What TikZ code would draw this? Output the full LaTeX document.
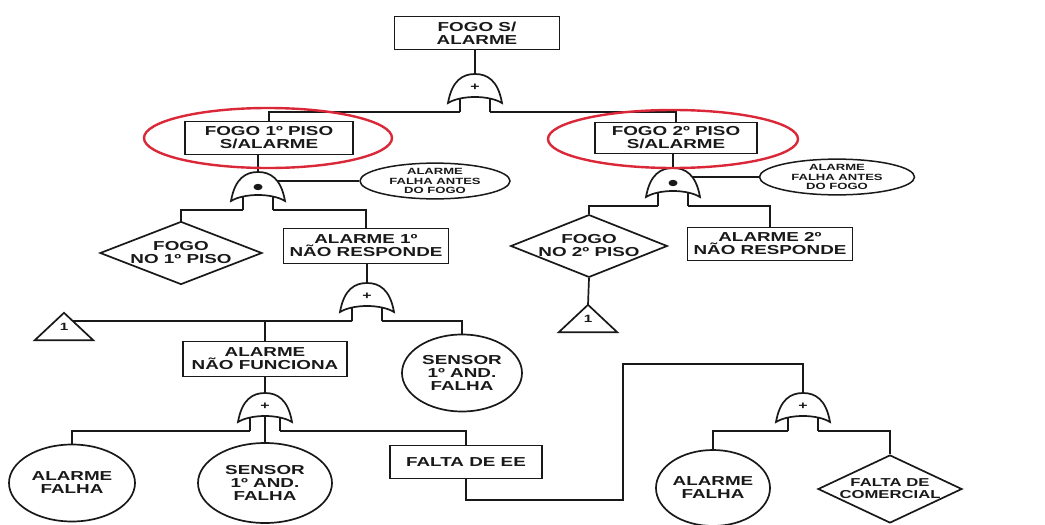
\documentclass[tikz,border=0pt]{standalone}
\usepackage{fontspec}
\newfontfamily\ftfont{Liberation Sans}[FakeStretch=1.45]
\usetikzlibrary{shapes.geometric,calc}

\definecolor{ink}{RGB}{25,25,25}
\definecolor{markred}{RGB}{218,40,56}

\newcommand\lbltext{\ftfont\bfseries\fontsize{13}{13}\selectfont}
\newcommand\smalltext{\ftfont\bfseries\fontsize{9}{9.5}\selectfont}
\newcommand\midtext{\ftfont\bfseries\fontsize{11.5}{12}\selectfont}

% body of a fault-tree gate, top point at the origin, inputs below
\newcommand\ftgatebody{%
  \draw[gateline] (-27,29) .. controls (-23,6) and (-12,0) .. (0,0)
     .. controls (12,0) and (23,6) .. (27,29)
     .. controls (14,21) and (-14,21) .. cycle;
  \draw[wire] (-15,25) -- (-15,38) (15,25) -- (15,38);
  \coordinate (-top) at (0,0);
  \coordinate (-l) at (-15,38);
  \coordinate (-r) at (15,38);
  \coordinate (-mid) at (0,23);
  \coordinate (-side) at (19,9);
}

\begin{document}
\begin{tikzpicture}[x=1pt,y=-1pt,
  wire/.style={draw=ink, line width=1.7pt},
  gateline/.style={draw=ink, line width=1.7pt, fill=white},
  box/.style={rectangle, draw=ink, line width=1.7pt, fill=white, inner sep=0pt,
    align=center, font=\lbltext, text=ink},
  basic/.style={ellipse, draw=ink, line width=1.7pt, fill=white, inner sep=0pt,
    align=center, font=\lbltext, text=ink},
  cond/.style={ellipse, draw=ink, line width=1.5pt, fill=white, inner sep=0pt,
    align=center, font=\smalltext, text=ink},
  event/.style={diamond, draw=ink, line width=1.7pt, fill=white, inner sep=0pt,
    align=center, font=\lbltext, text=ink},
  tri/.style={rectangle, minimum width=58pt, minimum height=27pt, inner sep=0pt,
    font=\ftfont\bfseries\fontsize{10.5}{10.5}\selectfont, text=ink},
  redring/.style={ellipse, draw=markred, line width=2.4pt, inner sep=0pt},
  gatesym/.style={font=\ftfont\bfseries\fontsize{11}{11}\selectfont, text=ink, inner sep=0pt},
  pics/orgate/.style={code={\ftgatebody \node[gatesym] at (0,13) {+};}},
  pics/andgate/.style={code={\ftgatebody \fill[ink] (0,15) ellipse [x radius=4.5pt, y radius=3.2pt];}},
]
\useasboundingbox[fill=white] (0,0) rectangle (1045,525);

% top event
\node[box, minimum width=165pt, minimum height=33pt] (A) at (477,33) {FOGO S/\\ALARME};
\pic (g0) at (475,74) {orgate};

% first floor branch
\node[box, minimum width=168pt, minimum height=33pt] (B) at (269,138) {FOGO 1º PISO\\S/ALARME};
\pic (g1) at (258,172) {andgate};
\node[cond, minimum width=150pt, minimum height=35pt] (E1) at (435,181) {ALARME\\FALHA ANTES\\DO FOGO};
\node[event, minimum width=162pt, minimum height=63pt, aspect=2.57] (D1) at (181,253) {FOGO\\NO 1º PISO};
\node[box, minimum width=165pt, minimum height=35pt] (D) at (366,246) {ALARME 1º\\NÃO RESPONDE};
\pic (g2) at (367,283) {orgate};
\node[tri] (T1) at (64,326.5) {1};
\draw[wire] (T1.south west) -- (T1.north) -- (T1.south east) -- cycle;
\node[box, minimum width=164pt, minimum height=35pt] (E) at (265,359) {ALARME\\NÃO FUNCIONA};
\node[basic, minimum width=120pt, minimum height=77pt] (S1) at (462,373) {SENSOR\\1º AND.\\FALHA};
\pic (g3) at (265,393) {orgate};
\node[basic, minimum width=126pt, minimum height=77pt] (F1) at (72,483) {ALARME\\FALHA};
\node[basic, minimum width=134pt, minimum height=80pt] (S2) at (265,483) {SENSOR\\1º AND.\\FALHA};
\node[box, minimum width=152pt, minimum height=33pt] (F) at (466,462) {FALTA DE EE};

% power supply failure
\coordinate (eA) at (623,500);
\coordinate (eB) at (623,364);
\pic (g4) at (803,393) {orgate};
\node[basic, minimum width=114pt, minimum height=76pt] (F2) at (713,488) {ALARME\\FALHA};
\node[event, minimum width=144pt, minimum height=68pt, aspect=2.12, font=\midtext] (D3) at (890,489) {FALTA DE\\COMERCIAL};

% second floor branch
\node[box, minimum width=162pt, minimum height=31pt] (C) at (676,138) {FOGO 2º PISO\\S/ALARME};
\pic (g5) at (673,168) {andgate};
\node[cond, minimum width=155pt, minimum height=35pt] (E2) at (837,177) {ALARME\\FALHA ANTES\\DO FOGO};
\node[event, minimum width=155pt, minimum height=62pt, aspect=2.5] (D2) at (589,246) {FOGO\\NO 2º PISO};
\node[box, minimum width=165pt, minimum height=33pt] (H) at (770,244) {ALARME 2º\\NÃO RESPONDE};
\node[tri] (T2) at (588,318.5) {1};
\draw[wire] (T2.south west) -- (T2.north) -- (T2.south east) -- cycle;

% connections
\draw[wire] (g0-top) -- (g0-top |- A.south);
\draw[wire] (g0-l) -| (B.north);
\draw[wire] (g0-r) -| (C.north);
\draw[wire] (g1-top) -- (g1-top |- B.south);
\draw[wire] (g1-side) -- (E1.west);
\draw[wire] (g1-l) -| (D1.north);
\draw[wire] (g1-r) -| (D.north);
\draw[wire] (g2-top) -- (g2-top |- D.south);
\draw[wire] (g2-l) -- ($(T1.north)!0.3!(T1.south east)$);
\draw[wire] (E.north) -- (E.north |- g2-l);
\draw[wire] (g2-r) -| (S1.north);
\draw[wire] (g3-top) -- (g3-top |- E.south);
\draw[wire] (g3-l) -| (F1.north);
\draw[wire] (g3-mid) -- (S2.north);
\draw[wire] (g3-r) -| (F.north);
\draw[wire] (F.south) |- (eA) -- (eB) -| (g4-top);
\draw[wire] (g4-l) -| (F2.north);
\draw[wire] (g4-r) -| (D3.north);
\draw[wire] (g5-top) -- (g5-top |- C.south);
\draw[wire] (g5-side) -- (E2.west);
\draw[wire] (g5-l) -| (D2.north);
\draw[wire] (g5-r) -| (H.north);
\draw[wire] (D2.south) -- (T2.north);

% highlighted intermediate events
\node[redring, minimum width=248pt, minimum height=60pt] (R1) at (268,138) {};
\node[redring, minimum width=250pt, minimum height=58pt] (R2) at (673,139) {};
\end{tikzpicture}
\end{document}
